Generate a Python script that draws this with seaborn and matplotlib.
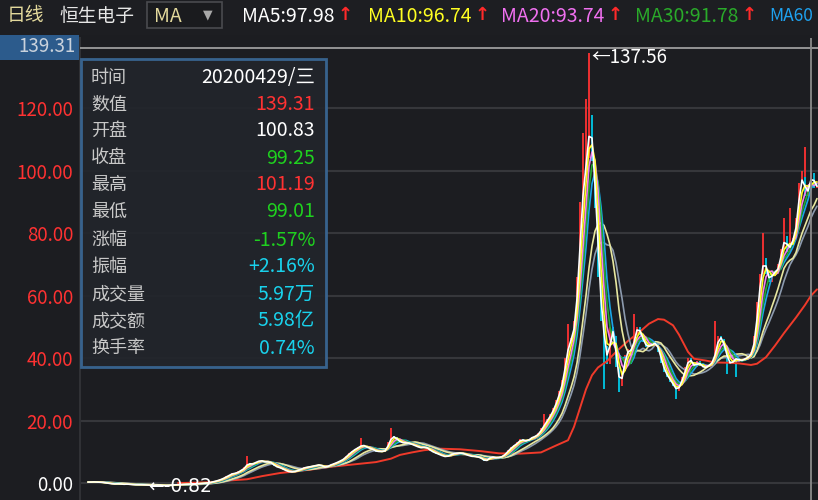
import numpy as np
import pandas as pd
import matplotlib
matplotlib.use("Agg")
import matplotlib.pyplot as plt
import seaborn as sns
from matplotlib.patches import Rectangle

# ---------------- data ----------------
close = [
    0.3, 0.3, 0.4, 0.2, 0.3, 0.1, 0.0, -0.2, -0.3, -0.3,
    -0.2, -0.4, -0.4, -0.3, -0.5, -0.5, -0.6, -0.5, -0.6, -0.6,
    -0.7, -0.8, -0.7, -0.6, -0.7, -0.8, -0.82, -0.7, -0.6, -0.6,
    -0.5, -0.5, -0.4, -0.4, -0.3, -0.3, -0.2, -0.2, -0.1, 0.0,
    0.1, 0.3, 0.6, 0.8, 1.2, 1.6, 2.2, 2.6, 3.2, 3.0,
    3.8, 4.2, 5.0, 6.5, 5.8, 6.4, 6.8, 7.2, 7.0, 6.6,
    6.9, 6.2, 5.4, 5.0, 4.8, 4.2, 3.8, 3.5, 3.6, 3.8,
    4.2, 4.6, 5.0, 5.1, 5.3, 5.5, 5.7, 5.9, 5.2, 5.0,
    5.6, 6.0, 6.3, 6.8, 7.2, 7.8, 8.8, 9.6, 10.4, 11.0,
    11.5, 12.2, 11.8, 11.2, 11.0, 10.5, 10.0, 10.2, 10.0, 10.6,
    13.0, 15.0, 14.6, 13.6, 13.0, 12.8, 12.9, 12.6, 12.2, 11.8,
    11.4, 11.2, 11.6, 11.0, 10.2, 9.8, 9.4, 9.0, 8.6, 8.4,
    8.8, 9.2, 9.6, 9.5, 9.7, 9.3, 9.0, 8.6, 8.5, 8.5,
    8.2, 7.8, 6.9, 7.6, 8.4, 8.2, 8.0, 8.3, 8.6, 9.6,
    10.6, 11.6, 12.2, 13.0, 14.0, 13.6, 13.4, 14.2, 14.8, 15.0,
    16.0, 17.5, 19.0, 20.5, 22.0, 24.0, 26.5, 29.5, 33.0, 40.0,
    45.0, 46.5, 52.0, 66.0, 85.0, 99.0, 104.0, 118.0, 103.0, 88.0,
    66.0, 52.0, 44.0, 38.0, 50.0, 47.0, 37.0, 31.0, 36.0, 41.0,
    43.0, 42.0, 48.0, 50.0, 47.5, 45.0, 43.5, 44.0, 44.5, 45.0,
    42.0, 38.5, 35.5, 34.0, 32.5, 31.0, 29.5, 31.5, 34.0, 37.0,
    40.0, 38.5, 37.0, 39.0, 37.5, 37.0, 37.0, 38.2, 38.8, 43.0,
    47.0, 46.0, 43.0, 39.0, 38.0, 39.5, 40.0, 39.0, 39.5, 40.0,
    40.5, 42.0, 47.0, 58.0, 67.0, 72.0, 67.0, 64.5, 68.0, 67.0,
    70.0, 75.0, 79.0, 74.0, 77.0, 78.5, 85.0, 96.0, 98.0, 92.0,
    95.0, 99.25, 94.5, 95.5,
]
spike_day = [53, 91, 101, 152, 160, 164, 165, 166, 167, 182, 209, 225, 232, 234, 238, 239]
spike_high = [8.5, 14.3, 17.6, 22.0, 51.0, 90.0, 112.0, 123.0, 137.56, 54.0, 52.0, 80.0,
              85.0, 88.0, 100.0, 107.6]
dip_day = [172, 177, 196, 213, 216]
dip_low = [30.0, 29.0, 27.0, 35.0, 34.0]

long_ma_day = [30, 36, 42, 47, 53, 58, 64, 70, 75, 81, 87, 96, 101, 104, 108, 112, 117,
               124, 131, 137, 144, 151, 156, 160, 162, 164, 166, 168, 170, 173, 176, 180,
               184, 187, 190, 192, 195, 197, 200, 202, 206, 209, 214, 217, 221, 223, 226,
               229, 232, 236, 239, 241, 243]
long_ma_val = [0.0, 0.1, 0.3, 0.8, 1.2, 2.2, 3.2, 3.8, 4.4, 5.2, 5.8, 6.7, 7.8, 9.0, 9.8,
               10.5, 11.0, 10.8, 10.2, 9.5, 9.4, 9.8, 12.0, 13.7, 18.0, 24.0, 30.0, 34.5,
               37.0, 39.0, 42.0, 45.5, 48.5, 51.0, 52.5, 52.3, 50.5, 47.5, 42.0, 39.8, 39.2,
               38.6, 38.5, 38.3, 37.8, 38.2, 40.3, 44.0, 48.0, 53.0, 57.0, 60.0, 62.0]

yticks = [0, 20, 40, 60, 80, 100, 120]
ytick_labels = ["0.00", "20.00", "40.00", "60.00", "80.00", "100.00", "120.00"]

ma_names = ["MA5", "MA10", "MA20", "MA30", "MA60"]
ma_values = ["97.98", "96.74", "93.74", "91.78", ""]

info_labels = ["时间", "数值", "开盘", "收盘", "最高", "最低", "涨幅", "振幅", "成交量", "成交额", "换手率"]
info_values = ["20200429/三", "139.31", "100.83", "99.25", "101.19", "99.01", "-1.57%", "+2.16%",
               "5.97万", "5.98亿", "0.74%"]

cross_day = 241
cross_value = 139.31
peak_label = "137.56"
min_day = 26
min_label = "-0.82"

# ---------------- styling ----------------
BG = "#1c1d21"
RED = "#ff3232"
CYAN = "#00c8e6"
GREEN = "#1fd11f"
TXT_CYAN = "#19d2ec"

sns.set_theme(style="dark")
plt.rcParams["font.family"] = ["Noto Sans CJK SC", "DejaVu Sans"]

W, H = 818, 500
fig = plt.figure(figsize=(W / 100, H / 100), dpi=100, facecolor=BG)


def fx(px):
    return px / W


def fy(py):
    return 1 - py / H


ax = fig.add_axes([fx(80), 0, fx(738), 462 / H])
ax.set_facecolor(BG)

df = pd.DataFrame({"day": np.arange(len(close)), "close": close})
df["open"] = df["close"].shift(1).fillna(df["close"])
df["up"] = df["close"] >= df["open"]

# candles (body from previous close to close)
for up, col in [(True, RED), (False, CYAN)]:
    sub = df[df["up"] == up]
    ax.vlines(sub["day"], sub["open"], sub["close"], colors=col, lw=1.3, zorder=2)
sp = df.set_index("day").loc[spike_day]
ax.vlines(spike_day, np.maximum(sp["open"], sp["close"]), spike_high, colors=RED, lw=1.3, zorder=2)
dp = df.set_index("day").loc[dip_day]
ax.vlines(dip_day, dip_low, np.minimum(dp["open"], dp["close"]), colors=CYAN, lw=1.3, zorder=2)

# moving averages
sns.lineplot(x=long_ma_day, y=long_ma_val, ax=ax, color="#f03a2a", lw=1.4, zorder=3, legend=False)
ma_specs = [(12, "#8c9aae"), (10, "#e8e8a0"), (6, "#1aa6e8"), (5, "#22aa33"),
            (4, "#f080f0"), (3, "#ffff20"), (2, "#ffffff")]
for w, col in ma_specs:
    ma = df["close"].rolling(w, min_periods=1).mean()
    sns.lineplot(x=df["day"], y=ma, ax=ax, color=col, lw=1.2, zorder=4, legend=False)

ax.set_xlim(-2.667, 243.333)
ax.set_ylim(-5.44, 142.5)
ax.set_xticks([])
ax.set_yticks(yticks)
ax.set_yticklabels(ytick_labels)
for lab, v in zip(ax.get_yticklabels(), yticks):
    lab.set_color("#ffffff" if v == 0 else RED)
    lab.set_fontsize(13.5)
ax.tick_params(axis="y", length=0, pad=5)
ax.grid(axis="y", color="#36373b", lw=1.5)
ax.grid(axis="x", visible=False)
ax.set_xlabel("")
ax.set_ylabel("")
for s in ["top", "right", "bottom"]:
    ax.spines[s].set_visible(False)
ax.spines["left"].set_color("#303135")
ax.spines["left"].set_linewidth(1.5)

# crosshair
ax.axhline(cross_value, color="#a8a8a8", lw=1.2, zorder=5)
ax.axvline(cross_day, color="#8a8a8a", lw=1.3, zorder=5)

# annotations
ax.text(167.8, 136.2, "←" + peak_label, color="white", fontsize=13.5, va="center", ha="left", zorder=6)
ax.text(min_day - 6, -1.2, "←" + min_label, color="white", fontsize=13.5, va="center", ha="left",
        zorder=6, family=["DejaVu Sans"])

# top-left value box
fig.patches.append(Rectangle((0, fy(60)), fx(79), (60 - 35) / H, transform=fig.transFigure,
                             facecolor="#2c5b8c", edgecolor="none", zorder=5))
fig.text(fx(76), fy(47), f"{cross_value:.2f}", color="#c9d2dc", fontsize=13.5, ha="right",
         va="center", zorder=6)

# info panel
fig.patches.append(Rectangle((fx(81), fy(367)), fx(245), (367 - 59) / H, transform=fig.transFigure,
                             facecolor="#22252b", edgecolor="#3a6896", lw=2, alpha=0.93, zorder=7))
val_colors = ["#ffffff", RED, "#ffffff", GREEN, RED, GREEN, GREEN, TXT_CYAN, TXT_CYAN, TXT_CYAN, TXT_CYAN]
row_y = [78, 105, 131, 158, 185, 212, 240, 267, 294, 321, 348]
for lab, val, col, y in zip(info_labels, info_values, val_colors, row_y):
    fig.text(fx(91), fy(y), lab, color="#c8c8c8", fontsize=13, ha="left", va="center", zorder=8)
    fig.text(fx(315), fy(y), val, color=col, fontsize=14, ha="right", va="center", zorder=8)

# header
fig.patches.append(Rectangle((0, fy(35)), 1, 35 / H, transform=fig.transFigure,
                             facecolor="#1d1e22", edgecolor="none", zorder=1))
fig.text(fx(7), fy(16), "日线", color="#e3d99c", fontsize=13.5, ha="left", va="center")
fig.text(fx(59), fy(16), "恒生电子", color="#e6e6e6", fontsize=13.5, ha="left", va="center")
fig.patches.append(Rectangle((fx(147), fy(28)), fx(75), 26 / H, transform=fig.transFigure,
                             facecolor="#1a1b1e", edgecolor="#4a4b4f", lw=1.2, zorder=2))
fig.text(fx(154), fy(16), "MA", color="#e3d99c", fontsize=14, ha="left", va="center", zorder=3)
fig.text(fx(208), fy(15), "▼", color="#a8a8a8", fontsize=9, ha="center", va="center", zorder=3,
         family=["DejaVu Sans"])
hdr_colors = ["#ffffff", "#ffff22", "#f070f0", "#2aaa2a", "#1ea2f0"]
hdr_x = [242, 368, 501, 635, 769]
renderer = fig.canvas.get_renderer()
for name, val, col, x in zip(ma_names, ma_values, hdr_colors, hdr_x):
    label = f"{name}:{val}" if val else name
    t = fig.text(fx(x), fy(16), label, color=col, fontsize=14 if val else 12.5,
                 ha="left", va="center")
    if val:
        bb = t.get_window_extent(renderer=renderer)
        fig.text((bb.x1 + 3) / W, fy(15), "↑", color="#ff2a2a", fontsize=13, fontweight="bold",
                 ha="left", va="center", family=["DejaVu Sans"])

fig.savefig("out.png", dpi=100, facecolor=BG)
